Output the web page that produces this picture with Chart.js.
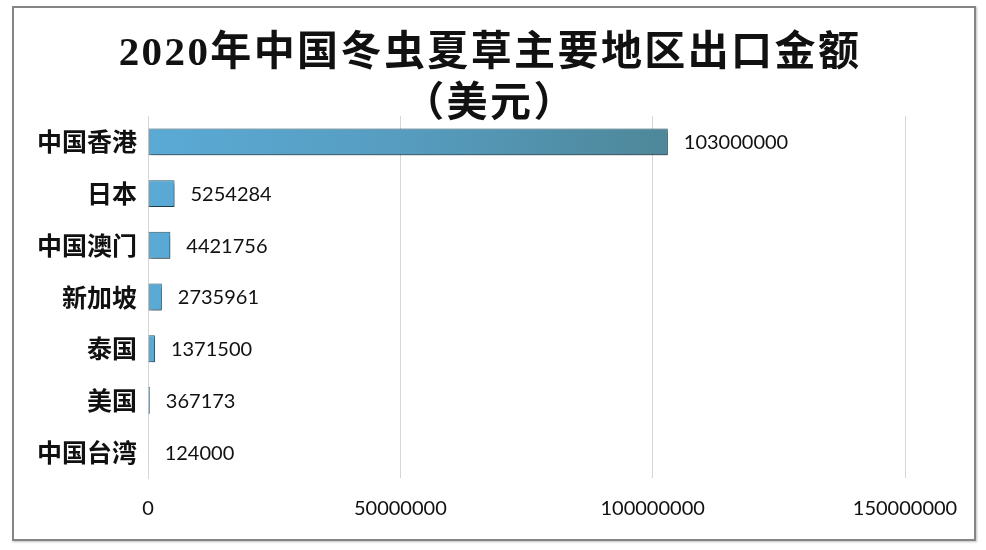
<!DOCTYPE html>
<html>
<head>
<meta charset="utf-8">
<script src="https://cdn.jsdelivr.net/npm/chart.js@4.4.0/dist/chart.umd.min.js"></script>
<style>
  html, body { margin: 0; padding: 0; background: #fff; }
  #wrap { position: relative; width: 986px; height: 550px; }
  #frame {
    position: absolute; left: 12px; top: 6px; width: 960px; height: 531px;
    border: 2px solid #858585; box-shadow: 1px 1px 2px rgba(0,0,0,0.25);
  }
  #c { position: absolute; left: 0; top: 0; }
  #titulo {
    position: absolute; left: 0; top: 26px; width: 980px; text-align: center;
    font-family: 'Liberation Serif', 'Noto Sans CJK SC', serif; font-weight: bold;
    font-size: 41px; line-height: 51px; letter-spacing: 2.4px; color: #111;
  }
</style>
</head>
<body>
<div id="wrap">
  <div id="frame"></div>
  <canvas id="c" width="986" height="550"></canvas>
  <div id="titulo"></div>
</div>
<script>
    // ---------- DADOS ----------
    const regioes = ["中国香港", "日本", "中国澳门", "新加坡", "泰国", "美国", "中国台湾"];
    const valores = [103000000, 5254284, 4421756, 2735961, 1371500, 367173, 124000];
    const ticksX = [0, 50000000, 100000000, 150000000];
    const titulo = ["2020年中国冬虫夏草主要地区出口金额", "（美元）"];

    // título em texto HTML (duas linhas)
    const tituloEl = document.getElementById("titulo");
    titulo.forEach(linha => {
        const d = document.createElement("div");
        d.textContent = linha;
        tituloEl.appendChild(d);
    });

    // rótulo de valor ao lado de cada barra
    const rotulosValor = {
        id: "rotulosValor",
        afterDatasetsDraw(chart) {
            const ctx = chart.ctx;
            const meta = chart.getDatasetMeta(0);
            ctx.save();
            ctx.font = "20px Lato, 'Open Sans', sans-serif";
            ctx.fillStyle = "#111";
            ctx.textBaseline = "middle";
            meta.data.forEach((bar, i) => {
                ctx.fillText(String(chart.data.datasets[0].data[i]), bar.x + 16, bar.y + 1);
            });
            ctx.restore();
        }
    };

    // sombra das barras
    const sombraBarras = {
        id: "sombraBarras",
        beforeDatasetsDraw(chart) {
            const ctx = chart.ctx;
            ctx.save();
            ctx.shadowColor = "rgba(0,0,0,0.4)";
            ctx.shadowOffsetX = 2;
            ctx.shadowOffsetY = 3;
            ctx.shadowBlur = 4;
        },
        afterDatasetsDraw(chart) {
            chart.ctx.restore();
        }
    };

    function corBarra(context) {
        const { ctx, chartArea, scales } = context.chart;
        if (!chartArea) return "#58a6d2";
        const x0 = chartArea.left;
        const x1 = scales.x.getPixelForValue(valores[0]);
        const grad = ctx.createLinearGradient(x0, 0, x1, 0);
        grad.addColorStop(0, "#5aaad6");
        grad.addColorStop(0.5, "#569cbf");
        grad.addColorStop(1, "#4e8799");
        return grad;
    }

    const ctx = document.getElementById("c").getContext("2d");
    new Chart(ctx, {
        type: "bar",
        data: {
            labels: regioes,
            datasets: [{
                label: "出口金额",
                data: valores,
                backgroundColor: corBarra,
                borderColor: "#2d5a6c",
                borderWidth: 1,
                barPercentage: 0.52,
                categoryPercentage: 1
            }]
        },
        options: {
            indexAxis: "y",
            responsive: false,
            animation: false,
            layout: { padding: { left: 0, right: 81, top: 116, bottom: 10 } },
            plugins: {
                legend: { display: false },
                tooltip: { enabled: false },
                title: { display: false }
            },
            scales: {
                x: {
                    min: 0,
                    max: 150000000,
                    afterBuildTicks(scale) {
                        scale.ticks = ticksX.map(v => ({ value: v }));
                    },
                    grid: { color: "#d6d6d6", drawTicks: false, lineWidth: 1 },
                    border: { display: false },
                    ticks: {
                        padding: 19,
                        color: "#111",
                        font: { family: "Lato, 'Open Sans', sans-serif", size: 20 },
                        callback: v => String(v)
                    }
                },
                y: {
                    afterFit(scale) { scale.width = 148; },
                    grid: { display: false, drawTicks: false },
                    border: { display: true, color: "#d6d6d6" },
                    ticks: {
                        padding: 11,
                        color: "#111",
                        font: { family: "'Noto Sans CJK SC', sans-serif", size: 25, weight: "bold" }
                    }
                }
            }
        },
        plugins: [sombraBarras, rotulosValor]
    });
</script>
</body>
</html>
